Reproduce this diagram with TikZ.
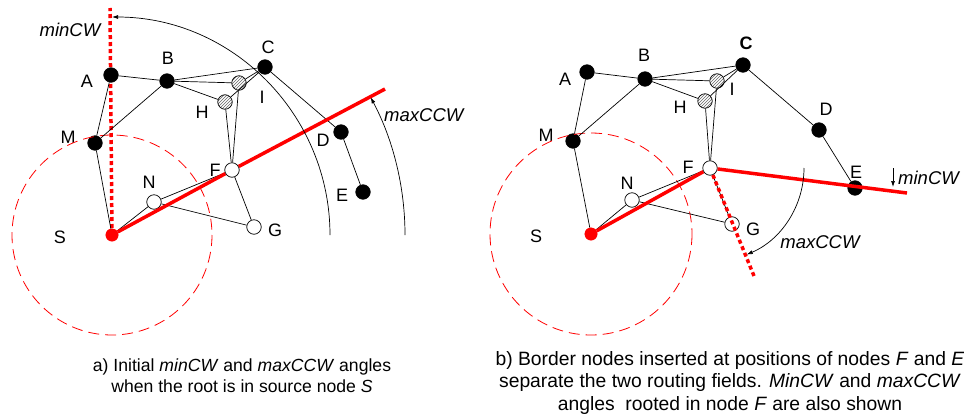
\documentclass[tikz,border=0pt]{standalone}
\usepackage{fontspec}
\setmainfont{Liberation Sans}
\usepackage{tikz}
\usetikzlibrary{arrows.meta, patterns, backgrounds}
\tikzset{every path/.style={line cap=butt, line join=round}}

\begin{document}
\begin{tikzpicture}[
    x=1pt, y=-1pt,
    >={Latex[length=6pt, width=4pt]},
    dot/.style={circle, draw=black, line width=0.7pt, minimum size=14.5pt, inner sep=0pt},
    blacknode/.style={dot, fill=black},
    whitenode/.style={dot, fill=white},
    hatchnode/.style={dot, preaction={fill=white}, pattern=north east lines, pattern color=black!60},
    rootnode/.style={circle, fill=red, draw=red, minimum size=12.5pt, inner sep=0pt},
    lbl/.style={font=\fontsize{18}{20}\selectfont, inner sep=0pt},
    anglbl/.style={font=\fontsize{18.5}{20}\selectfont\itshape, inner sep=0pt},
    caption/.style={align=center, inner sep=0pt},
    edge/.style={draw=black, line width=0.7pt},
    border/.style={draw=red, line width=3.5pt},
    borderdot/.style={draw=red, line width=3.5pt, dash pattern=on 4pt off 3pt},
    field/.style={draw=red, line width=0.8pt, dash pattern=on 11pt off 6pt},
    sweep/.style={->, draw=black, line width=0.7pt}
]
\useasboundingbox (0,0) rectangle (964,418);

% a) root in S
\node[rootnode] (Sa) at (112,235) {};
\node[blacknode] (Aa) at (111,75) {};
\node[blacknode] (Ba) at (167,81) {};
\node[blacknode] (Ca) at (265,67) {};
\node[hatchnode] (Ia) at (239,83) {};
\node[hatchnode] (Ha) at (225,102) {};
\node[blacknode] (Ma) at (95,143) {};
\node[whitenode] (Na) at (154,202) {};
\node[whitenode] (Fa) at (232,170) {};
\node[whitenode] (Ga) at (254,227) {};
\node[blacknode] (Da) at (341,132) {};
\node[blacknode] (Ea) at (363,192) {};

\node[lbl] (lAa) at (87,81) {A};
\node[lbl] (lBa) at (168,58) {B};
\node[lbl] (lCa) at (268,47) {C};
\node[lbl] (lHa) at (202,112) {H};
\node[lbl] (lIa) at (262,97) {I};
\node[lbl] (lMa) at (68,137) {M};
\node[lbl] (lNa) at (149,182) {N};
\node[lbl] (lFa) at (215,170) {F};
\node[lbl] (lDa) at (323,140) {D};
\node[lbl] (lEa) at (342,195) {E};
\node[lbl] (lGa) at (275,230) {G};
\node[lbl] (lSa) at (60,237) {S};

\coordinate (minCWa) at (110,8);
\coordinate (maxCCWa) at (385,89);

\draw[field] (Sa) circle[radius=100];
\draw[edge] (Aa) -- (Ba) (Aa) -- (Ma) (Ma) -- (Ba) (Ma) -- (Sa);
\draw[edge] (Ba) -- (Ca) (Ba) -- (Ia) (Ba) -- (Ha) (Ca) -- (Ia) (Ca) -- (Ha);
\draw[edge] (Ha) -- (Fa) (Ia) -- (Fa) (Ca) -- (Da) (Da) -- (Ea);
\draw[edge] (Sa) -- (Na) (Na) -- (Fa) (Na) -- (Ga) (Fa) -- (Ga);
\begin{pgfonlayer}{background}
\draw[borderdot] (Sa.center) -- (minCWa);
\end{pgfonlayer}
\draw[border] (Sa) -- (Fa);
\draw[border] (Fa) -- (maxCCWa);

\draw[sweep] (Sa.center) ++(0:218) arc[start angle=0, end angle=-90, radius=218];
\draw[sweep] (Sa.center) ++(0:293) arc[start angle=0, end angle=-28, radius=293];
\node[anglbl] (minCWlbla) at (70,30) {minCW};
\node[anglbl, anchor=west] (maxCCWlbla) at (384,115) {maxCCW};

\node[caption, font=\fontsize{17.6}{20.5}\selectfont, anchor=north] (capa) at (242,359)
{a) Initial \textit{minCW} and \textit{maxCCW} angles\\when the root is in source node \textit{S}};

% b) border nodes in F and E
\node[rootnode] (Sb) at (591,234) {};
\node[blacknode] (Ab) at (587,72) {};
\node[blacknode] (Bb) at (645,79) {};
\node[blacknode] (Cb) at (743,65) {};
\node[hatchnode] (Ib) at (717,81) {};
\node[hatchnode] (Hb) at (705,101) {};
\node[blacknode] (Mb) at (573,141) {};
\node[whitenode] (Nb) at (632,200) {};
\node[whitenode] (Gb) at (732,224) {};
\node[blacknode] (Db) at (819,130) {};
\node[blacknode] (Eb) at (855,188) {};

\node[lbl] (lAb) at (565,79) {A};
\node[lbl] (lBb) at (644,55) {B};
\node[lbl, font=\fontsize{18}{20}\selectfont\bfseries] (lCb) at (746,43) {C};
\node[lbl] (lHb) at (680,107) {H};
\node[lbl] (lIb) at (732,89) {I};
\node[lbl] (lMb) at (546,135) {M};
\node[lbl] (lNb) at (627,183) {N};
\node[lbl] (lFb) at (688,167) {F};
\node[lbl] (lDb) at (826,109) {D};
\node[lbl] (lEb) at (856,172) {E};
\node[lbl] (lGb) at (753,229) {G};
\node[lbl] (lSb) at (536,236) {S};

\coordinate (minCWb) at (907,193);
\coordinate (maxCCWb) at (754,276);

\draw[field] (Sb) circle[radius=101];
\draw[edge] (Ab) -- (Bb) (Ab) -- (Mb) (Mb) -- (Bb) (Mb) -- (Sb);
\draw[edge] (Bb) -- (Cb) (Bb) -- (Ib) (Bb) -- (Hb) (Cb) -- (Ib) (Cb) -- (Hb);
\draw[edge] (Cb) -- (Db) (Db) -- (Eb) (Sb) -- (Nb) (Nb) -- (Gb);
\node[whitenode] (Fb) at (710,168) {};
\draw[edge] (Hb) -- (Fb) (Ib) -- (Fb) (Nb) -- (Fb) (Fb) -- (Gb);
\draw[border] (Sb) -- (Fb);
\draw[border] (Fb) -- (minCWb);
\draw[borderdot] (Fb) -- (maxCCWb);

\draw[sweep] (Fb.center) ++(0:94) arc[start angle=0, end angle=67, radius=94];
\coordinate (tickb) at (893,168);
\draw[sweep] (tickb) -- ++(0,19);
\node[anglbl, anchor=west] (minCWlblb) at (898,178) {minCW};
\node[anglbl] (maxCCWlblb) at (820,242) {maxCCW};

\node[caption, font=\fontsize{19.3}{22.5}\selectfont, anchor=north] (capb) at (730,351)
{b) Border nodes inserted at positions of nodes \textit{F} and \textit{E}\\separate the two routing fields. \textit{MinCW} and \textit{maxCCW}\\angles\ \ rooted in node \textit{F} are also shown};

\end{tikzpicture}
\end{document}
